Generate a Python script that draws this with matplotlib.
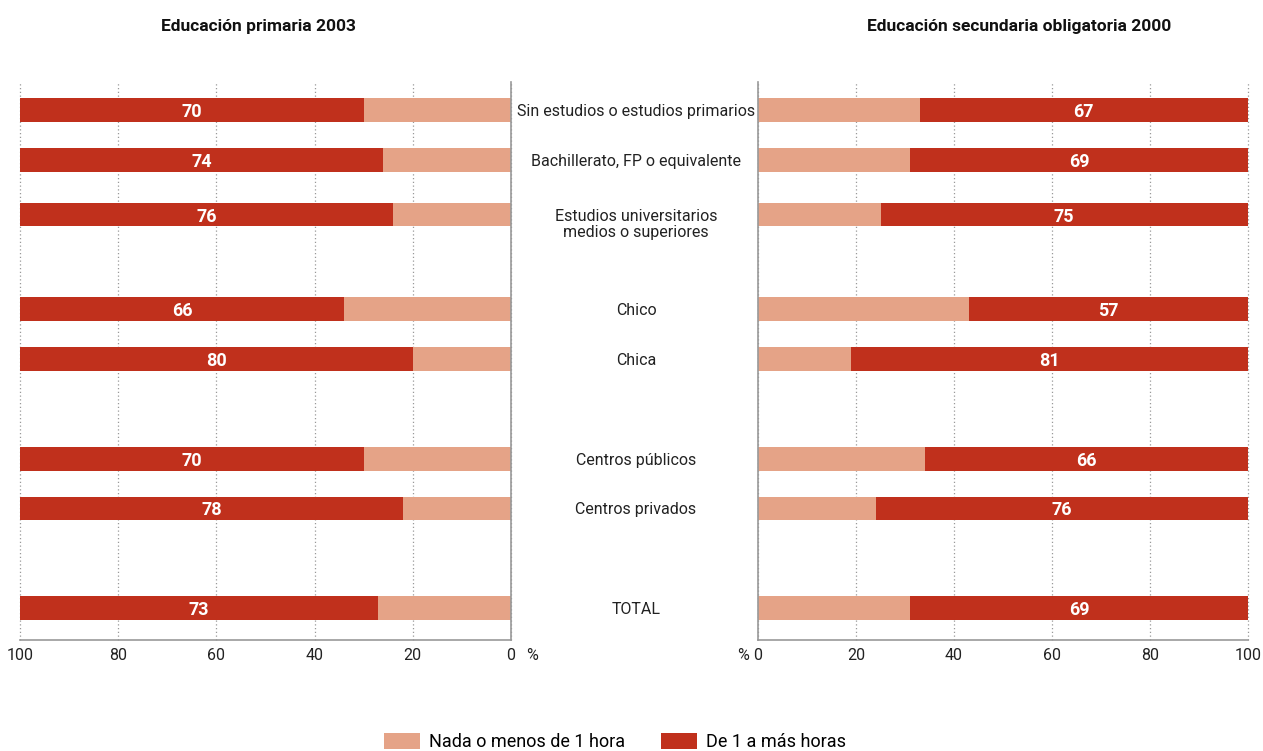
import matplotlib
matplotlib.use("Agg")
import matplotlib.pyplot as plt  # noqa: E402

categories = [
    "Sin estudios o estudios primarios",
    "Bachillerato, FP o equivalente",
    "Estudios universitarios\nmedios o superiores",
    "Chico",
    "Chica",
    "Centros públicos",
    "Centros privados",
    "TOTAL",
]
prim_menos = [30, 26, 24, 34, 20, 30, 22, 27]
prim_mas = [70, 74, 76, 66, 80, 70, 78, 73]
sec_menos = [33, 31, 25, 43, 19, 34, 24, 31]
sec_mas = [67, 69, 75, 57, 81, 66, 76, 69]
ticks = [0, 20, 40, 60, 80, 100]

light = "#E5A387"
dark = "#C0301C"
plt.rcParams["font.family"] = ["Roboto", "DejaVu Sans"]

ypos = [0, 1, 2.1, 4, 5, 7, 8, 10]
bh = 0.48

fig = plt.figure(figsize=(12.63, 7.51), dpi=100)
axl = fig.add_axes([20 / 1263, 1 - 640 / 751, 491 / 1263, 558 / 751])
axr = fig.add_axes([758 / 1263, 1 - 640 / 751, 490 / 1263, 558 / 751])

# left panel: light part next to 0, dark part out to 100
axl.barh(ypos, prim_menos, height=bh, color=light, edgecolor="none")
axl.barh(ypos, prim_mas, left=prim_menos, height=bh, color=dark, edgecolor="none")
axl.set_xlim(100, 0)
for y, a, b in zip(ypos, prim_menos, prim_mas):
    axl.text(a + b / 2, y, str(b), color="white", fontsize=13, fontweight="bold",
             ha="center", va="center_baseline")

axr.barh(ypos, sec_menos, height=bh, color=light, edgecolor="none",
         label="Nada o menos de 1 hora")
axr.barh(ypos, sec_mas, left=sec_menos, height=bh, color=dark, edgecolor="none",
         label="De 1 a más horas")
axr.set_xlim(0, 100)
for y, a, b in zip(ypos, sec_menos, sec_mas):
    axr.text(a + b / 2, y, str(b), color="white", fontsize=13, fontweight="bold",
             ha="center", va="center_baseline")

for ax in (axl, axr):
    ax.set_ylim(10.64, -0.56)
    ax.set_yticks([])
    ax.set_xticks(ticks)
    ax.tick_params(axis="x", length=0, labelsize=11.5, colors="#222222", pad=6)
    ax.grid(axis="x", linestyle=(0, (1, 2)), color="#999999", linewidth=0.9)
    ax.set_axisbelow(True)
    ax.spines["top"].set_visible(False)
    ax.spines["bottom"].set_color("#999999")
    ax.spines["bottom"].set_linewidth(1.2)
    for gl in ax.get_xgridlines():
        gl.set_clip_on(False)

axl.spines["left"].set_visible(False)
axl.spines["right"].set_color("#999999")
axl.spines["right"].set_linewidth(1.2)
axr.spines["right"].set_visible(False)
axr.spines["left"].set_color("#999999")
axr.spines["left"].set_linewidth(1.2)

# center category labels
for y, c in zip(ypos, categories):
    yy = y + (0.2 if "\n" in c else 0.03)
    y_fig = axl.transData.transform((0, yy))[1] / fig.bbox.height
    fig.text(636 / 1263, y_fig, c, ha="center", va="center", fontsize=11.5,
             color="#222222", linespacing=1.15)

fig.text(532 / 1263, 1 - 655 / 751, "%", ha="center", va="center", fontsize=11.5, color="#222222")
fig.text(743 / 1263, 1 - 655 / 751, "%", ha="center", va="center", fontsize=11.5, color="#222222")

fig.text(258 / 1263, 1 - 27 / 751, "Educación primaria 2003", ha="center", va="center",
         fontsize=12.5, fontweight="bold", color="#111111")
fig.text(1019 / 1263, 1 - 27 / 751, "Educación secundaria obligatoria 2000", ha="center",
         va="center", fontsize=12.5, fontweight="bold", color="#111111")

fig.legend(loc="center", bbox_to_anchor=(615 / 1263, 1 - 742 / 751), ncol=2, frameon=False,
           fontsize=13, handlelength=2.0, handleheight=1.0, columnspacing=2.0,
           handletextpad=0.5)

fig.savefig("out.png", dpi=100)
plt.close(fig)
